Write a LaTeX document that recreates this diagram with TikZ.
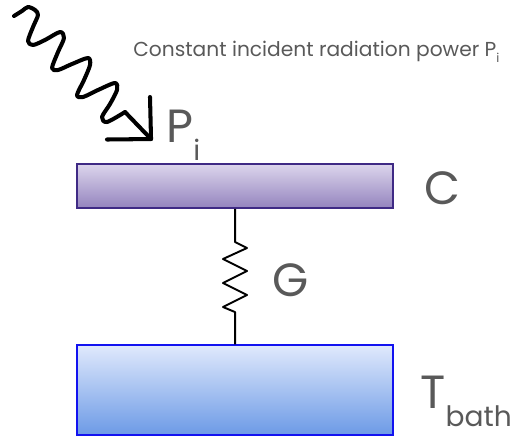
\documentclass[tikz,border=0pt]{standalone}
\usepackage{fontspec}
\setmainfont{Poppins}
\usepackage{tikz}
\definecolor{labelgray}{HTML}{595959}
\definecolor{plateedge}{HTML}{3F2A85}
\definecolor{platetop}{HTML}{DCD5EC}
\definecolor{platebot}{HTML}{9484BE}
\definecolor{bathedge}{HTML}{1212F0}
\definecolor{bathtop}{HTML}{E0E9FC}
\definecolor{bathbot}{HTML}{6C9AE6}
\newcommand{\sublabel}[2]{#1\raisebox{-0.4em}{\fontsize{16}{17}\selectfont #2}}

\begin{document}
\begin{tikzpicture}[scale=0.02]
\tikzset{
  bigtext/.style={anchor=base west,inner sep=0pt,text=labelgray,font=\fontsize{26.5}{27}\selectfont},
  smalltext/.style={anchor=base west,inner sep=0pt,text=labelgray,font=\fontsize{11.5}{12}\selectfont},
  slab/.style={draw,line width=0.9pt,minimum width=6.32cm,inner sep=0pt},
  wave/.style={line width=2.3pt,black,line cap=round,line join=round}
}
\useasboundingbox (0,0) rectangle (512,-438);
% plates
\node [slab,draw=plateedge,top color=platetop,bottom color=platebot,minimum height=0.88cm] (plate) at (235,-186) {};
\node [slab,draw=bathedge,top color=bathtop,bottom color=bathbot,minimum height=1.8cm] (bath) at (235,-390) {};
% labels
\node [bigtext] (labelc) at (424,-204.5) {C};
\node [bigtext] (labelg) at (272,-296) {G};
\node [bigtext] (labelt) at (420,-408) {\sublabel{T}{bath}};
\node [bigtext] (labelp) at (166,-142) {\sublabel{P}{i}};
\node [smalltext] (caption) at (133,-56) {Constant incident radiation power P\raisebox{-0.3em}{\fontsize{7}{7}\selectfont i}};
% spring
\coordinate (springtop) at (235,-242);
\coordinate (springbot) at (235,-312);
\draw [black,line width=1.1pt,line join=round] (plate.south) -- (springtop) -- (247,-248) -- (223,-259) -- (247,-271) -- (223,-283) -- (247,-295) -- (223,-307) -- (springbot) -- (bath.north);
% radiation
\coordinate (wavestart) at (14,-16);
\coordinate (wavebend) at (125,-112);
\coordinate (wavetip) at (151,-139);
\draw [wave] plot [smooth,tension=0.5] coordinates {(wavestart) (22,-11) (28,-7) (35,-10) (38,-15) (33,-27) (28,-41) (33,-45) (45,-40) (60,-32) (64,-38) (58,-52) (52,-68) (58,-70) (72,-64) (88,-58) (90,-65) (84,-80) (77,-95) (83,-97) (98,-90) (115,-83) (117,-90) (110,-104) (102,-117) (107,-122) (wavebend)};
\draw [wave] (wavebend) -- (wavetip);
\draw [wave] (107,-139.5) -- (wavetip) -- (150,-97);
\end{tikzpicture}
\end{document}
